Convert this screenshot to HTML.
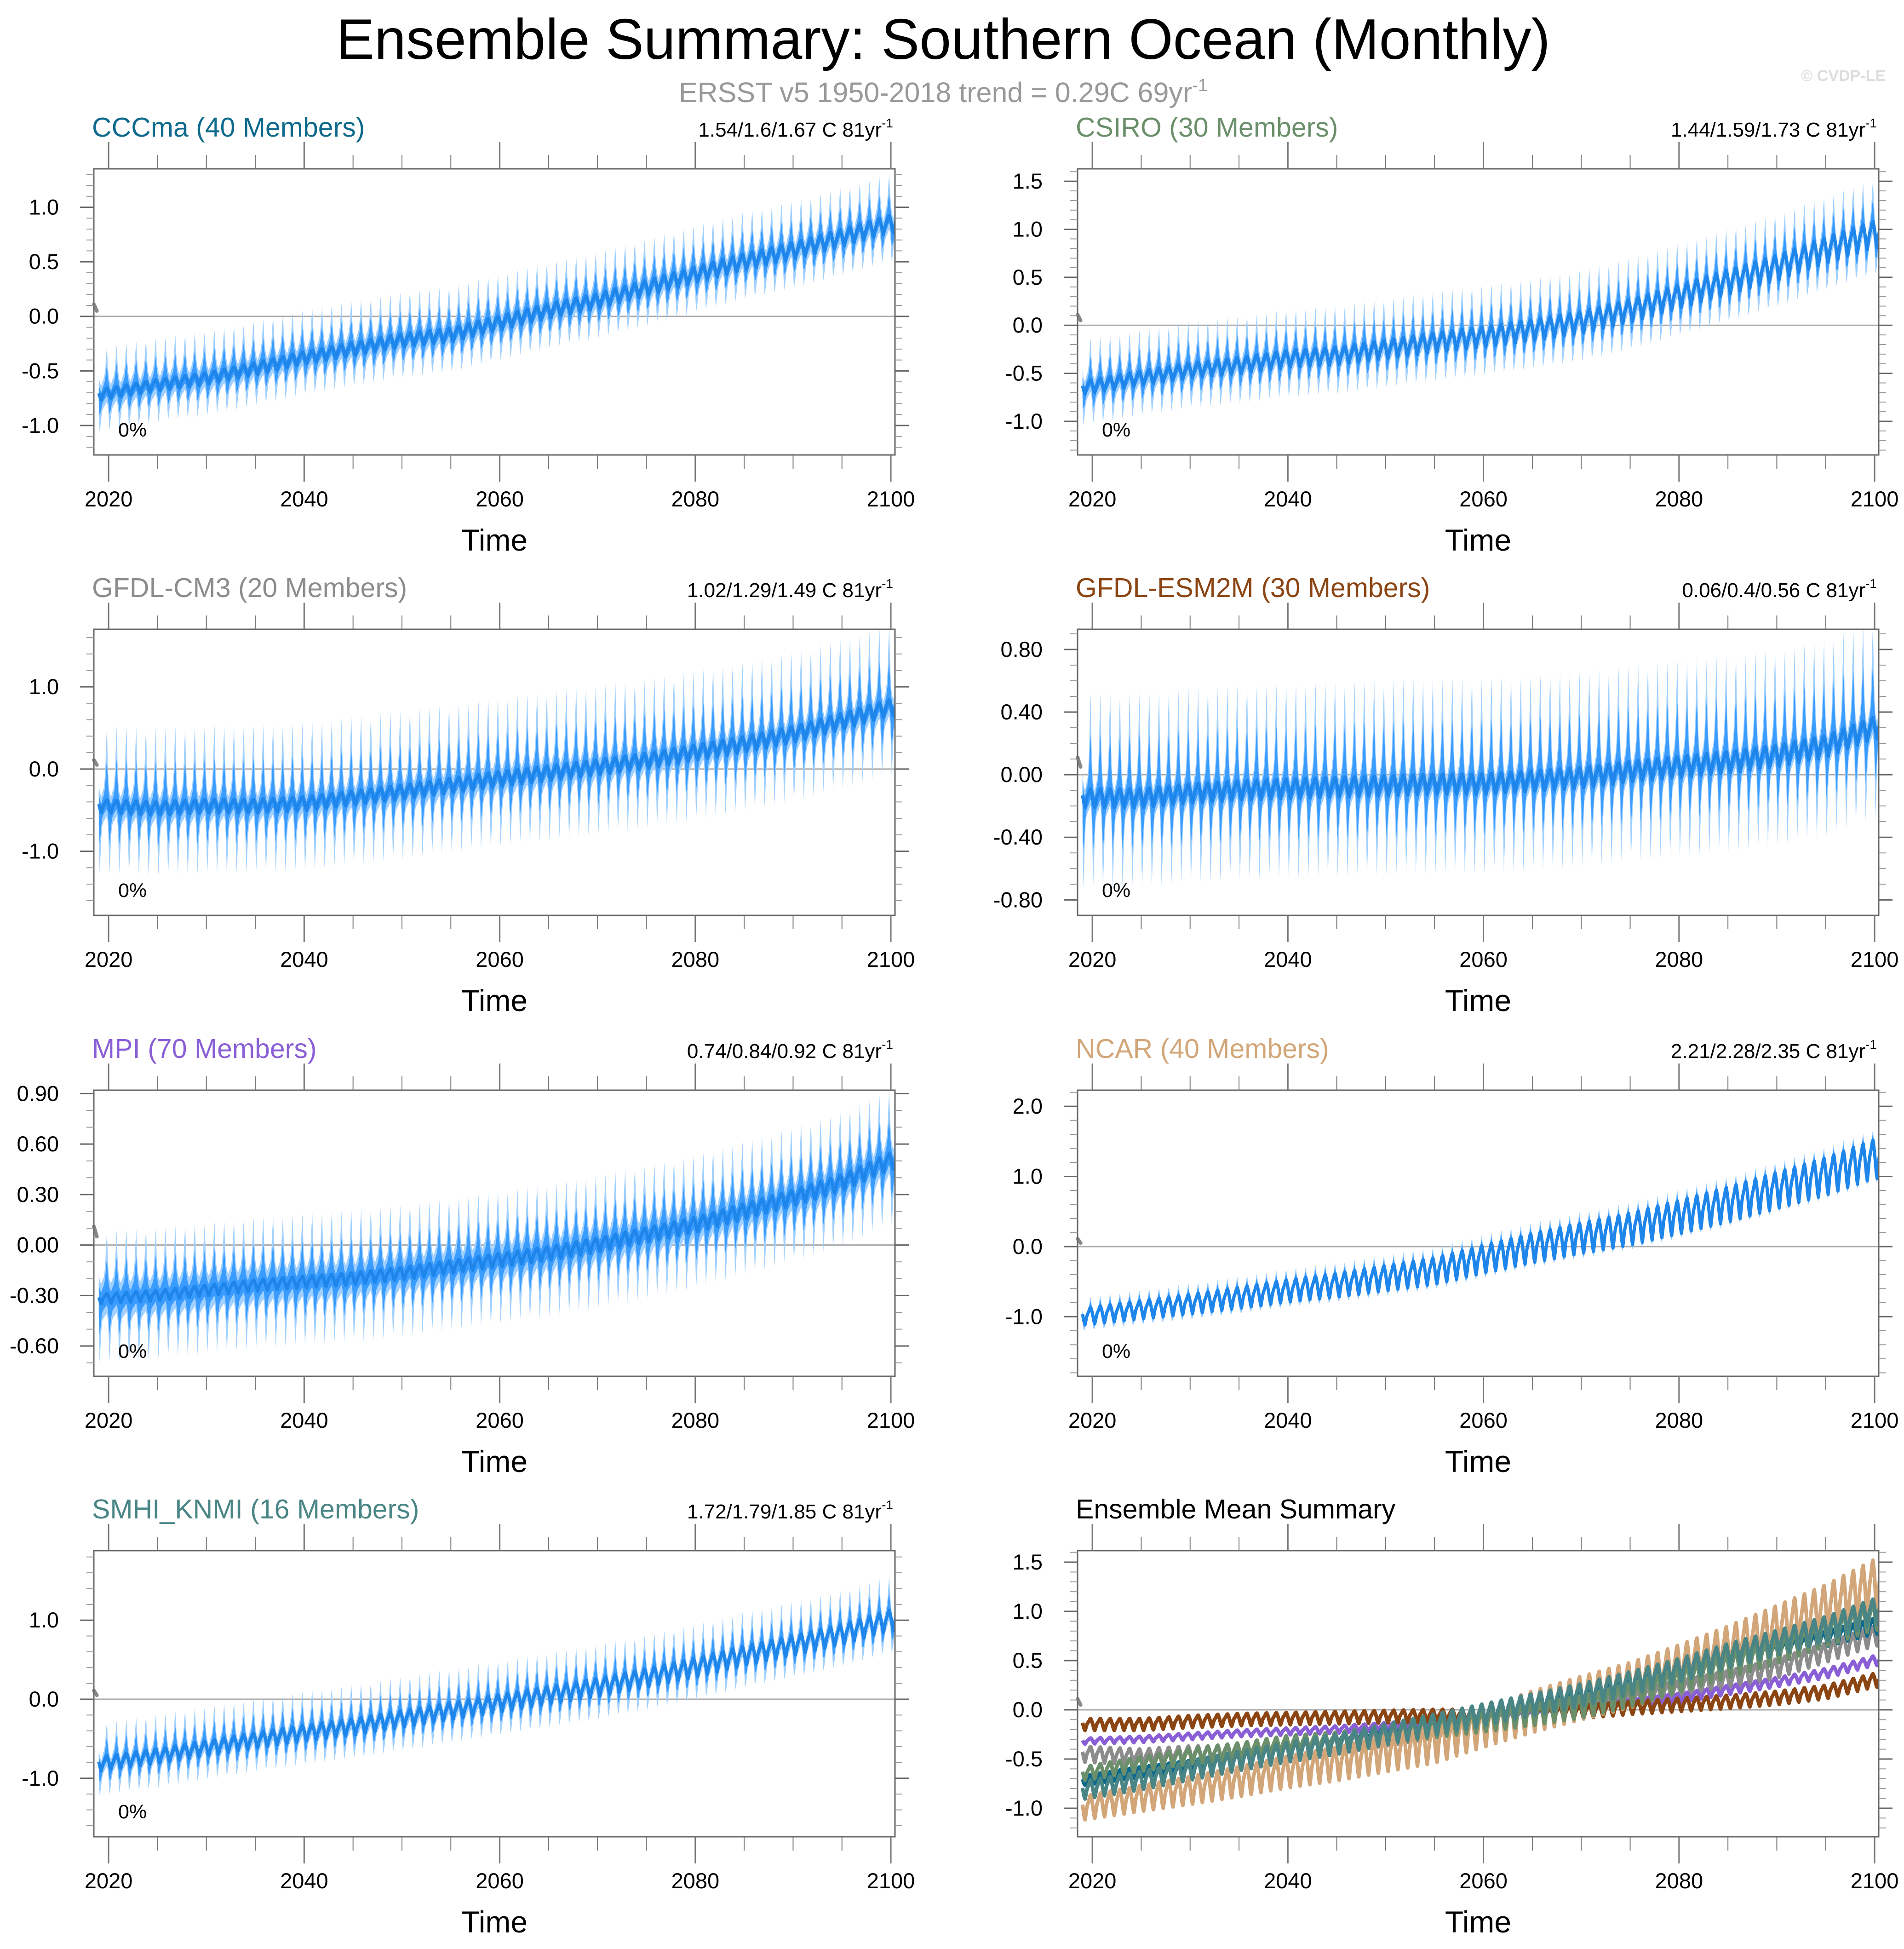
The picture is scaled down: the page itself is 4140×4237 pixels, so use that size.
<!DOCTYPE html>
<html><head><meta charset="utf-8"><style>
html,body{margin:0;padding:0;background:#fff}
svg{display:block}
text{font-family:"Liberation Sans",Arial,sans-serif}
</style></head><body>
<svg id="fig" xmlns="http://www.w3.org/2000/svg" width="4140" height="4237" viewBox="0 0 4140 4237">
<text x="2051" y="128" font-size="124" text-anchor="middle">Ensemble Summary: Southern Ocean (Monthly)</text>
<text x="2051" y="222" font-size="61" text-anchor="middle" fill="#999">ERSST v5 1950-2018 trend = 0.29C 69yr<tspan dy="-24" font-size="38">-1</tspan></text>
<text x="4100" y="176" font-size="34" font-weight="bold" text-anchor="end" fill="#ddd">© CVDP-LE</text>
<g id="panels"></g>
</svg>
<script>
// node years for the annual-mean series
const nodeYears = [2019,2025,2030,2035,2040,2045,2050,2055,2060,2065,2070,2075,2080,2085,2090,2095,2100];
const modelNames = ["CCCma","CSIRO","GFDL-CM3","GFDL-ESM2M","MPI","NCAR","SMHI_KNMI"];
const memberCounts = [40,30,20,30,70,40,16];
const trendLabels = ["1.54/1.6/1.67","1.44/1.59/1.73","1.02/1.29/1.49","0.06/0.4/0.56","0.74/0.84/0.92","2.21/2.28/2.35","1.72/1.79/1.85"];
const meanCCCma = [-0.72,-0.63,-0.57,-0.48,-0.38,-0.30,-0.22,-0.17,-0.06,0.05,0.14,0.26,0.38,0.50,0.60,0.72,0.85];
const meanCSIRO = [-0.65,-0.55,-0.47,-0.42,-0.35,-0.32,-0.25,-0.18,-0.12,-0.05,0.03,0.15,0.30,0.45,0.60,0.78,0.95];
const meanCM3   = [-0.45,-0.48,-0.45,-0.45,-0.42,-0.35,-0.28,-0.20,-0.12,-0.05,0.02,0.10,0.20,0.30,0.42,0.58,0.75];
const meanESM2M = [-0.15,-0.15,-0.12,-0.10,-0.09,-0.08,-0.07,-0.06,-0.06,-0.04,-0.02,0.02,0.05,0.08,0.12,0.18,0.30];
const meanMPI   = [-0.32,-0.30,-0.27,-0.24,-0.22,-0.20,-0.17,-0.13,-0.09,-0.05,0.00,0.06,0.12,0.20,0.28,0.37,0.50];
const meanNCAR  = [-1.00,-0.90,-0.82,-0.73,-0.63,-0.55,-0.45,-0.35,-0.18,-0.02,0.12,0.25,0.42,0.60,0.80,1.00,1.25];
const meanSMHI  = [-0.82,-0.72,-0.62,-0.52,-0.43,-0.35,-0.25,-0.15,-0.05,0.05,0.15,0.27,0.40,0.55,0.68,0.82,1.00];
const seasonalShape = [0.3,-0.2,-0.7,-1.0,-0.6,-0.1,0.2,0.4,0.6,0.9,1.0,0.7];
const spikeUpShape = [0.1,0,0,0,0,0,0,0.1,0.3,0.7,1,0.4];
const spikeDnShape = [0.4,1,0.6,0.2,0,0,0,0,0,0,0,0.1];
const ampStart = [0.05,0.07,0.08,0.06,0.03,0.12,0.09];
const ampEnd   = [0.08,0.14,0.10,0.07,0.05,0.28,0.13];
const lightBase = [0.13,0.13,0.20,0.11,0.12,0.05,0.13];
const darkBase  = [0.07,0.07,0.11,0.07,0.07,0.03,0.07];
const spikeUp   = [0.25,0.30,0.70,0.50,0.25,0.10,0.30];
const spikeDn   = [0.20,0.25,0.60,0.45,0.25,0.10,0.25];
const obsValues = [0.11,0.08,0.05];
const xTickYears = [2020,2040,2060,2080,2100];

const means=[meanCCCma,meanCSIRO,meanCM3,meanESM2M,meanMPI,meanNCAR,meanSMHI];
const titleColors=["#0e6a8c","#6a8f6a","#8c8c8c","#8b4513","#8a5fd6","#d2a679","#4a8585"];
const axes=[
 {min:-1.27,max:1.352,maj:[-1,-0.5,0,0.5,1],minor:0.1,dec:1},
 {min:-1.35,max:1.63,maj:[-1,-0.5,0,0.5,1,1.5],minor:0.1,dec:1},
 {min:-1.78,max:1.70,maj:[-1,0,1],minor:0.2,dec:1},
 {min:-0.899,max:0.929,maj:[-0.8,-0.4,0,0.4,0.8],minor:0.1,dec:2},
 {min:-0.78,max:0.92,maj:[-0.6,-0.3,0,0.3,0.6,0.9],minor:0.1,dec:2},
 {min:-1.85,max:2.23,maj:[-1,0,1,2],minor:0.2,dec:1},
 {min:-1.74,max:1.88,maj:[-1,0,1],minor:0.2,dec:1},
 {min:-1.29,max:1.617,maj:[-1,-0.5,0,0.5,1,1.5],minor:0.1,dec:1}
];
const FW=1742,FH=622,XL=[204,2343],YT=[367,1368,2370,3371];
const X0=2018.49,X1=2100.42;
const NS="http://www.w3.org/2000/svg";
const root=document.getElementById('panels');
function mk(tag,attrs,parent){const e=document.createElementNS(NS,tag);for(const k in attrs)e.setAttribute(k,attrs[k]);(parent||root).appendChild(e);return e;}
function interp(arr,t){for(let i=0;i<nodeYears.length-1;i++){if(t<=nodeYears[i+1]){const f=(t-nodeYears[i])/(nodeYears[i+1]-nodeYears[i]);return arr[i]+f*(arr[i+1]-arr[i]);}}return arr[arr.length-1];}
function monthly(m){const out=[];for(let k=0;k<984;k++){const t=2019+k/12;const mo=k%12;const f=(t-2019)/82;const a=ampStart[m]+(ampEnd[m]-ampStart[m])*f;out.push({t:t,v:interp(means[m],t)+a*seasonalShape[mo],mo:mo});}return out;}

for(let p=0;p<8;p++){
 const col=p%2,row=Math.floor(p/2);
 const x0=XL[col],y0=YT[row],ax=axes[p];
 const g=mk('g',{});
 
 
 const sx=t=>x0+(t-X0)/(X1-X0)*FW;
 const sy=v=>y0+FH-(v-ax.min)/(ax.max-ax.min)*FH;
 const cp=mk('clipPath',{id:'cp'+p},g);mk('rect',{x:x0,y:y0,width:FW,height:FH},cp);
 const zl=mk('line',{x1:x0,x2:x0+FW,y1:sy(0),y2:sy(0),stroke:'#aaa','stroke-width':3},g);
 
 
 const dg=mk('g',{'clip-path':'url(#cp'+p+')'},g);
 if(p<7){
  const s=monthly(p);
  const band=(base,up,dn,fill,name)=>{let top='',bot='';s.forEach((d,i)=>{top+=(i?'L':'M')+sx(d.t).toFixed(1)+','+sy(d.v+base+up*spikeUpShape[d.mo]).toFixed(1);});for(let i=s.length-1;i>=0;i--){const d=s[i];bot+='L'+sx(d.t).toFixed(1)+','+sy(d.v-base-dn*spikeDnShape[d.mo]).toFixed(1);}const e=mk('path',{d:top+bot+'Z',fill:fill},dg);};
  band(lightBase[p],spikeUp[p],spikeDn[p],'#a0d0ff','light-spread-band');
  band(darkBase[p],spikeUp[p]*0.55,spikeDn[p]*0.55,'#3a9cff','dark-spread-band');
  let d='';s.forEach((q,i)=>{d+=(i?'L':'M')+sx(q.t).toFixed(1)+','+sy(q.v).toFixed(1);});
  const ln=mk('path',{d:d,fill:'none',stroke:'#1e86ea','stroke-width':7,'stroke-linejoin':'round'},dg);
  
  
 } else {
  const order=[2,4,3,5,0,1,6];
  order.forEach(m=>{const s=monthly(m);let d='';s.forEach((q,i)=>{d+=(i?'L':'M')+sx(q.t).toFixed(1)+','+sy(q.v).toFixed(1);});
   const ln=mk('path',{d:d,fill:'none',stroke:titleColors[m],'stroke-width':8,'stroke-linejoin':'round'},dg);
   
   });
 }
 let od='';obsValues.forEach((v,i)=>{od+=(i?'L':'M')+(sx(2018.5+i*0.15)).toFixed(1)+','+sy(v).toFixed(1);});
 const ob=mk('path',{d:od,fill:'none',stroke:'#888','stroke-width':8,'stroke-linecap':'round'},g);
 
 
 const fr=mk('rect',{x:x0,y:y0,width:FW,height:FH,fill:'none',stroke:'#666','stroke-width':3},g);
 
 
 for(let yr=2020;yr<=2100;yr+=5){const maj=yr%20===0;const L=maj?58:30;const X=sx(yr);
  mk('line',{x1:X,x2:X,y1:y0,y2:y0-L,stroke:'#777','stroke-width':maj?3:2},g);
  mk('line',{x1:X,x2:X,y1:y0+FH,y2:y0+FH+L,stroke:'#777','stroke-width':maj?3:2},g);}
 xTickYears.forEach(yr=>{const t=mk('text',{x:sx(yr),y:y0+FH+112,'font-size':47,'text-anchor':'middle'},g);t.textContent=yr;
  
  });
 const xt=mk('text',{x:x0+FW/2,y:y0+FH+208,'font-size':66,'text-anchor':'middle'},g);xt.textContent='Time';
 
 
 const nmin=Math.ceil(ax.min/ax.minor-1e-6),nmax=Math.floor(ax.max/ax.minor+1e-6);
 for(let n=nmin;n<=nmax;n++){const v=n*ax.minor;const Y=sy(v);
  mk('line',{x1:x0,x2:x0-16,y1:Y,y2:Y,stroke:'#999','stroke-width':2},g);
  mk('line',{x1:x0+FW,x2:x0+FW+16,y1:Y,y2:Y,stroke:'#999','stroke-width':2},g);}
 ax.maj.forEach(v=>{const Y=sy(v);
  mk('line',{x1:x0,x2:x0-30,y1:Y,y2:Y,stroke:'#666','stroke-width':3},g);
  mk('line',{x1:x0+FW,x2:x0+FW+30,y1:Y,y2:Y,stroke:'#666','stroke-width':3},g);
  const t=mk('text',{x:x0-76,y:Y+16,'font-size':47,'text-anchor':'end'},g);t.textContent=v.toFixed(ax.dec);
  
  });
 const tt=mk('text',{x:x0-4,y:y0-70,'font-size':59,fill:p<7?titleColors[p]:'#000'},g);
 tt.textContent=p<7?modelNames[p]+' ('+memberCounts[p]+' Members)':'Ensemble Mean Summary';
 
 
 if(p<7){
  const st=mk('text',{x:x0+FW-4,y:y0-70,'font-size':44,'text-anchor':'end'},g);
  st.innerHTML=trendLabels[p]+' C 81yr<tspan dy="-20" font-size="28">-1</tspan>';
  
  
  const pc=mk('text',{x:x0+53,y:y0+FH-40,'font-size':43},g);pc.textContent='0%';
  
  
 }
}
</script>
</body></html>
